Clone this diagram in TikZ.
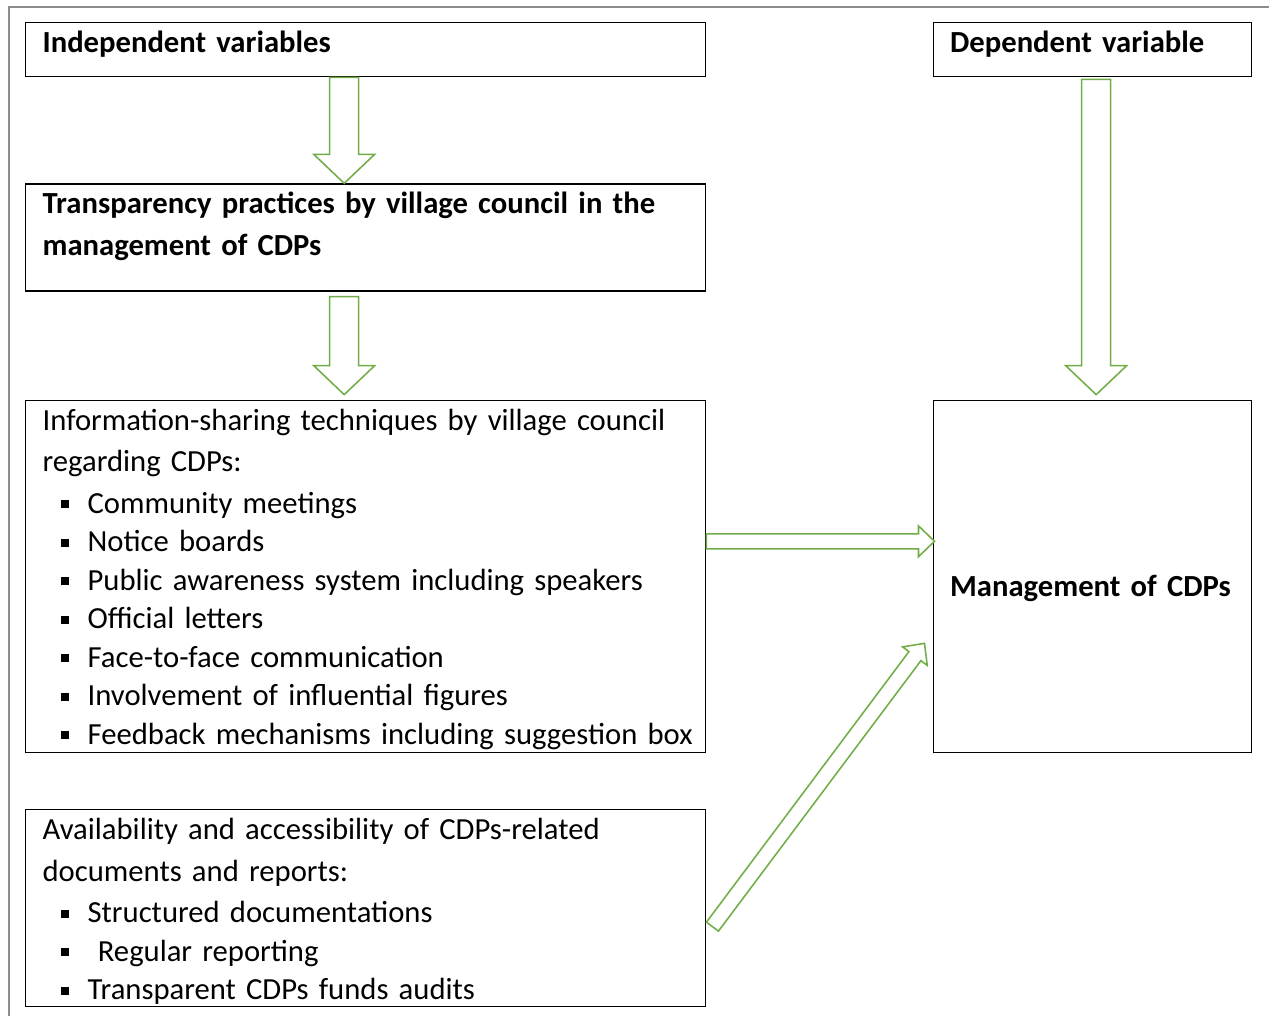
\documentclass[tikz,border=0pt]{standalone}
\usepackage{fontspec}
\setmainfont{Carlito}
\usepackage{tikz}
\usetikzlibrary{positioning}
\usetikzlibrary{calc}
\definecolor{leafgreen}{HTML}{70AD47}
\definecolor{framegray}{HTML}{8C8C8C}
\newcommand{\bul}[1]{\hspace*{0.45cm}\makebox[0.675cm][l]{\raisebox{3.6pt}{\rule{5.7pt}{5.7pt}}}\mbox{#1}}
\tikzset{
  panel/.style={
    draw, line width=0.9pt, anchor=north west, align=left,
    inner xsep=0.425cm, inner ysep=0pt, text height=0.75cm,
    font=\fontsize{21.8pt}{27.4pt}\selectfont,
  },
  title/.style={panel, font=\fontsize{21.8pt}{29.2pt}\selectfont\bfseries},
  block arrow/.style n args={3}{
    draw=leafgreen, fill=white, line width=1.1pt,
    to path={
      let \p1=(\tikztostart), \p2=(\tikztotarget), \p3=($(\p2)!#3!(\p1)$) in
      ($(\p1)!#1!90:(\p2)$) -- ($(\p3)!#1!90:(\p2)$) -- ($(\p3)!#2!90:(\p2)$)
      -- (\p2) -- ($(\p3)!#2!-90:(\p2)$) -- ($(\p3)!#1!-90:(\p2)$)
      -- ($(\p1)!#1!-90:(\p2)$) -- cycle
    },
  },
  big arrow/.style={block arrow={0.3625cm}{0.7625cm}{0.725cm}},
  small arrow/.style={block arrow={0.1875cm}{0.385cm}{0.4cm}},
}
\begin{document}
\begin{tikzpicture}[x=0.025cm, y=-0.025cm]

  \useasboundingbox (0,0) rectangle (1269,1016);
  \clip (0,0) rectangle (1269,1016);
  \draw[framegray, line width=1.4pt] (9,7) rectangle (1290,1040);

  % Define nodes
  \node[title, text width=16.15cm, text depth=0.6cm] (ind) at (25,22) {Independent variables};
  \node[title, text width=7.1cm, text depth=0.6cm, right=5.65cm of ind] (dep) {Dependent variable};

  \node[title, text width=16.15cm, text depth=1.925cm, below=2.65cm of ind] (trans)
    {Transparency practices by village council in the\\ management of CDPs};

  \node[panel, text width=16.15cm, text depth=8.05cm, below=2.7cm of trans] (info)
    {Information-sharing techniques by village council\\[2.1pt]
     regarding CDPs:\\[2.1pt]
     \bul{Community meetings}\\
     \bul{Notice boards}\\
     \bul{Public awareness system including speakers}\\
     \bul{Official letters}\\
     \bul{Face-to-face communication}\\
     \bul{Involvement of influential figures}\\
     \bul{Feedback mechanisms including suggestion box}};

  \node[panel, text width=16.15cm, text depth=4.175cm, below=1.4cm of info] (avail)
    {Availability and accessibility of CDPs-related\\[2.1pt]
     documents and reports:\\[2.1pt]
     \bul{Structured documentations}\\
     \bul{\ Regular reporting}\\
     \bul{Transparent CDPs funds audits}};

  \node[title, text width=7.1cm, text height=4.9cm, text depth=3.9cm, right=5.65cm of info] (mgmt)
    {Management of CDPs};

  % Connect nodes
  \draw[big arrow] ([xshift=-0.5375cm]ind.south) to ([xshift=-0.5375cm]trans.north);
  \draw[big arrow] ([xshift=-0.5375cm, yshift=-0.125cm]trans.south) to ([xshift=-0.5375cm, yshift=0.125cm]info.north);
  \draw[big arrow] ([xshift=0.1cm, yshift=-0.05cm]dep.south) to ([xshift=0.1cm, yshift=0.125cm]mgmt.north);

  \draw[small arrow] ([yshift=0.875cm]info.east) to ([xshift=0.05cm, yshift=0.875cm]mgmt.west);
  \draw[small arrow] ([xshift=0.15cm, yshift=-0.4625cm]avail.east) to ([xshift=-0.2cm, yshift=-1.675cm]mgmt.west);

\end{tikzpicture}
\end{document}
